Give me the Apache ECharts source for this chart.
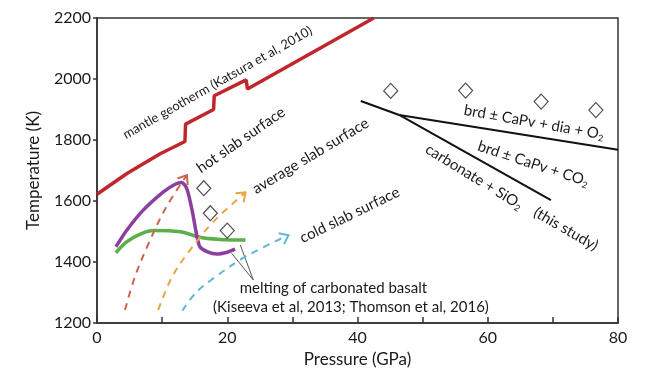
<!DOCTYPE html>
<html><head><meta charset="utf-8">
<script src="https://cdn.jsdelivr.net/npm/echarts@6/dist/echarts.min.js"></script>
<style>html,body{margin:0;padding:0;background:#fff}#c{width:650px;height:380px}</style>
</head><body><div id="c"></div>
<script>
// ---- data (Pressure GPa, Temperature K) ----
const geothermP = [0, 4.6, 9.7, 13.5, 13.6, 17.9, 18.0, 22.9, 23.1, 30, 42.5];
const geothermT = [1622, 1690, 1755, 1795, 1852, 1900, 1945, 1997, 1967, 2050, 2200];

const purpleP = [2.9, 4.6, 7.1, 10.2, 12.0, 13.0, 13.8, 14.6, 15.3, 15.8, 16.9, 18.4, 20.0, 21.2];
const purpleT = [1450, 1505, 1570, 1630, 1655, 1661, 1640, 1570, 1489, 1450, 1434, 1426, 1432, 1442];

const greenP = [2.9, 4.6, 6.5, 8.7, 12.8, 15.8, 18.9, 22.8];
const greenT = [1430, 1467, 1490, 1503, 1499, 1481, 1474, 1472];

const hotP = [4.3, 5.8, 7.7, 10.5, 13.8];
const hotT = [1243, 1350, 1450, 1575, 1685];
const avgP = [9.4, 11.5, 14.1, 18.0, 22.8];
const avgT = [1243, 1350, 1434, 1535, 1628];
const coldP = [13.1, 15.2, 17.9, 23.0, 29.4];
const coldT = [1240, 1300, 1347, 1420, 1488];

const diamondP = [16.4, 17.4, 20.0, 45.1, 56.6, 68.2, 76.6];
const diamondT = [1642, 1560, 1503, 1961, 1962, 1926, 1898];

const phaseUpperP = [40.5, 46.4, 80];
const phaseUpperT = [1928, 1882, 1768];
const phaseLowerP = [46.4, 69.7];
const phaseLowerT = [1882, 1603];

const leaderP = [20.7, 24.0, 22.0];
const leaderT = [1428, 1341, 1456];

const xTicks = [0, 20, 40, 60, 80];
const yTicks = [1200, 1400, 1600, 1800, 2000, 2200];

// ---- annotation text (anchored in data coords) ----
const notes = [
  {t: 'mantle geotherm (Katsura et al, 2010)', p: 18.5, k: 1988, a: 29.5, s: 13},
  {t: 'hot slab surface', p: 22.1, k: 1800, a: 34.7, s: 15},
  {t: 'average slab surface', p: 32.8, k: 1748, a: 31, s: 15},
  {t: 'cold slab surface', p: 38.8, k: 1554, a: 26, s: 15},
  {t: 'brd ± CaPv + dia + O{s|2}', p: 67.1, k: 1858, a: -10, s: 15},
  {t: 'brd ± CaPv + CO{s|2}', p: 67.0, k: 1722, a: -18.2, s: 15},
  {t: 'carbonate + SiO{s|2}', p: 57.9, k: 1679, a: -31.5, s: 15},
  {t: '(this study)', p: 72.0, k: 1508, a: -30, s: 15},
  {t: 'melting of carbonated basalt', p: 36.3, k: 1315, a: 0, s: 15},
  {t: '(Kiseeva et al, 2013; Thomson et al, 2016)', p: 39.0, k: 1252, a: 0, s: 15}
];

const FONT = 'Lato';
const zip = (P, T) => P.map((p, i) => [p, T[i]]);

const chart = echarts.init(document.getElementById('c'));

function lineS(P, T, color, width, extra) {
  return Object.assign({
    type: 'line', data: zip(P, T), showSymbol: false, symbol: 'none',
    lineStyle: {color: color, width: width}, itemStyle: {color: color},
    silent: true, animation: false, z: 3
  }, extra || {});
}

const dashed = [
  {P: hotP, T: hotT, c: '#c9644f'},
  {P: avgP, T: avgT, c: '#e8a443'},
  {P: coldP, T: coldT, c: '#63b6d8'}
];

const arrowData = dashed.map(d => {
  const n = d.P.length;
  return {value: [d.P[n - 1], d.T[n - 1], d.P[n - 2], d.T[n - 2]], itemStyle: {color: d.c}};
});

const series = [
  lineS(geothermP, geothermT, '#c0272d', 3.5),
  lineS(greenP, greenT, '#5cae4a', 3.5, {smooth: 0.4}),
  lineS(purpleP, purpleT, '#8c3f9f', 3.5, {smooth: 0.25, z: 4}),
];
dashed.forEach(d => {
  series.push(lineS(d.P, d.T, d.c, 2, {smooth: 0.35, z: 5, lineStyle: {color: d.c, width: 2, type: [7, 6]}}));
});
series.push({
  type: 'custom', data: arrowData, z: 5, silent: true, animation: false,
  renderItem: function (params, api) {
    const tip = api.coord([api.value(0), api.value(1)]);
    const back = api.coord([api.value(2), api.value(3)]);
    const ang = Math.atan2(tip[1] - back[1], tip[0] - back[0]);
    const L = 10, a = 0.65;
    const p1 = [tip[0] - L * Math.cos(ang - a), tip[1] - L * Math.sin(ang - a)];
    const p2 = [tip[0] - L * Math.cos(ang + a), tip[1] - L * Math.sin(ang + a)];
    return {type: 'polyline', shape: {points: [p1, tip, p2]},
      style: {stroke: api.visual('color'), lineWidth: 2, fill: null}};
  }
});
series.push({
  type: 'scatter', data: zip(diamondP, diamondT), symbol: 'diamond', symbolSize: [14, 15],
  itemStyle: {color: '#fff', borderColor: '#222', borderWidth: 1.2}, z: 6, silent: true, animation: false
});
series.push(lineS(phaseUpperP, phaseUpperT, '#111', 2));
series.push(lineS(phaseLowerP, phaseLowerT, '#111', 2));
series.push(lineS(leaderP, leaderT, '#555', 1, {z: 2}));

chart.setOption({
  animation: false,
  grid: {left: 97, right: 32, top: 18, bottom: 57, show: true, borderColor: '#333', borderWidth: 1.5},
  xAxis: {
    type: 'value', min: 0, max: 80, interval: 10,
    name: 'Pressure (GPa)', nameLocation: 'middle', nameGap: 27,
    nameTextStyle: {fontFamily: FONT, fontSize: 17, color: '#1a1a1a'},
    axisLine: {show: true, lineStyle: {color: '#333', width: 1.5}},
    axisTick: {show: true, inside: true, length: 6, lineStyle: {color: '#333', width: 1.5}},
    axisLabel: {fontFamily: FONT, fontSize: 16, color: '#1a1a1a', margin: 7,
      formatter: v => (xTicks.indexOf(v) >= 0 ? String(v) : '')},
    splitLine: {show: false}
  },
  yAxis: {
    type: 'value', min: 1200, max: 2200, interval: 200,
    name: 'Temperature (K)', nameLocation: 'middle', nameGap: 55,
    nameTextStyle: {fontFamily: FONT, fontSize: 17, color: '#1a1a1a'},
    axisLine: {show: true, lineStyle: {color: '#333', width: 1.5}},
    axisTick: {show: true, inside: false, length: 4, lineStyle: {color: '#333', width: 1.5}},
    axisLabel: {fontFamily: FONT, fontSize: 16, color: '#1a1a1a', margin: 6,
      formatter: v => (yTicks.indexOf(v) >= 0 ? String(v) : '')},
    splitLine: {show: false}
  },
  series: series
});

const graphics = notes.map(n => {
  const px = chart.convertToPixel({gridIndex: 0}, [n.p, n.k]);
  return {
    type: 'text', x: px[0], y: px[1], rotation: n.a * Math.PI / 180, silent: true, z: 10,
    style: {
      text: n.t, fontFamily: FONT, fontSize: n.s, fill: '#1a1a1a', align: 'center', verticalAlign: 'middle',
      rich: {s: {fontFamily: FONT, fontSize: Math.round(n.s * 0.6), fill: '#1a1a1a', verticalAlign: 'bottom', padding: [n.s * 0.55, 0, 0, 0]}}
    }
  };
});
chart.setOption({graphic: graphics});
</script>
</body></html>
